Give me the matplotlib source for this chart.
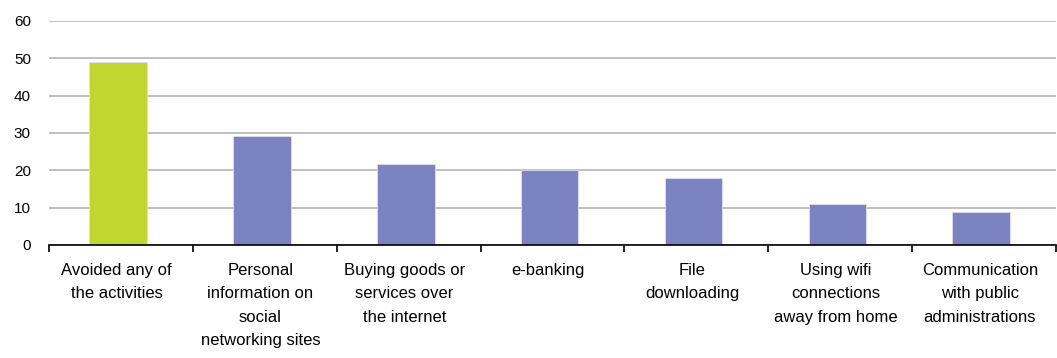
import matplotlib
matplotlib.use("Agg")
import matplotlib.pyplot as plt
from matplotlib.ticker import FixedLocator, NullFormatter

categories = [
    "Avoided any of\nthe activities",
    "Personal\ninformation on\nsocial\nnetworking sites",
    "Buying goods or\nservices over\nthe internet",
    "e-banking",
    "File\ndownloading",
    "Using wifi\nconnections\naway from home",
    "Communication\nwith public\nadministrations",
]
values = [49, 29.3, 21.6, 20.0, 17.9, 10.9, 8.8]
colors = ["#c0d631", "#7b84c1", "#7b84c1", "#7b84c1", "#7b84c1", "#7b84c1", "#7b84c1"]
yticks = [0, 10, 20, 30, 40, 50, 60]

plt.rcParams['font.family'] = ['Liberation Sans', 'DejaVu Sans']

W, H = 1057, 358
fig = plt.figure(figsize=(W / 100, H / 100), dpi=100)
ax = fig.add_axes([49 / W, 1 - 245 / H, (1056 - 49) / W, (245 - 21) / H])

x = list(range(len(categories)))
bar_x = [i - 0.02 for i in x]
ax.bar(bar_x, values, width=0.4, color=colors, edgecolor="#dde0f0", linewidth=0.6, zorder=3)

ax.set_xlim(-0.5, len(categories) - 0.5)
ax.set_ylim(0, 60)
ax.set_yticks(yticks)
ax.yaxis.grid(True, color="#c0c0c0", linewidth=1.4, zorder=0)
ax.tick_params(axis="y", length=0, pad=13, labelsize=11, colors="#000000")

ax.set_xticks([i - 0.03 for i in x])
ax.set_xticklabels(categories, fontsize=12, linespacing=1.7, va="top")
ax.tick_params(axis="x", which="major", length=0, pad=13)
ax.xaxis.set_minor_locator(FixedLocator([i - 0.5 for i in range(len(categories) + 1)]))
ax.xaxis.set_minor_formatter(NullFormatter())
ax.tick_params(axis="x", which="minor", length=5, width=1.2, color="#000000", direction="out")

for s in ["top", "right", "left"]:
    ax.spines[s].set_visible(False)
ax.spines["bottom"].set_color("#000000")
ax.spines["bottom"].set_linewidth(1.2)
ax.spines["bottom"].set_zorder(4)

fig.savefig("out.png", dpi=100)
